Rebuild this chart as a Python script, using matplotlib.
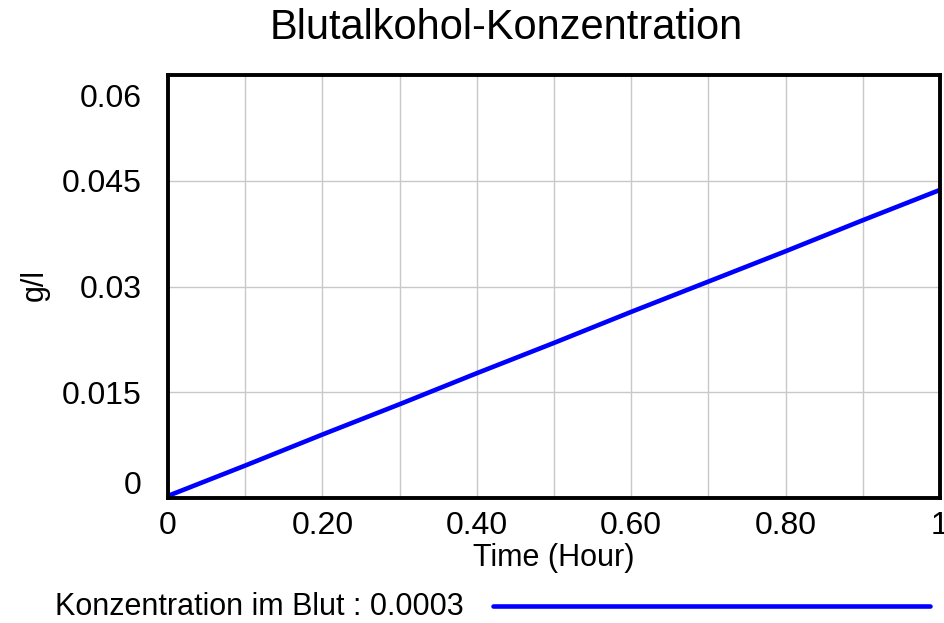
import matplotlib
matplotlib.use("Agg")
import matplotlib.pyplot as plt
import matplotlib.transforms as mtransforms
from matplotlib import font_manager

time_hours = [0.0, 0.1, 0.2, 0.3, 0.4, 0.5, 0.6, 0.7, 0.8, 0.9, 1.0]
konzentration = [0.0003, 0.0046, 0.0090, 0.0133, 0.0177, 0.0220, 0.0264, 0.0307, 0.0350, 0.0394, 0.0437]
x_ticks = [0.0, 0.1, 0.2, 0.3, 0.4, 0.5, 0.6, 0.7, 0.8, 0.9, 1.0]
x_tick_labels = ["0", "", "0.20", "", "0.40", "", "0.60", "", "0.80", "", "1"]
y_ticks = [0.0, 0.015, 0.03, 0.045, 0.06]
y_tick_labels = ["0", "0.015", "0.03", "0.045", "0.06"]
title = "Blutalkohol-Konzentration"
x_label = "Time (Hour)"
y_label = "g/l"
legend_label = "Konzentration im Blut : 0.0003"

names = {f.name for f in font_manager.fontManager.ttflist}
base = "Liberation Sans" if "Liberation Sans" in names else "DejaVu Sans"
plt.rcParams['font.family'] = [base, 'DejaVu Sans']

fig = plt.figure(figsize=(9.45, 6.23), dpi=100)
ax = fig.add_axes([168/945, 1-498/623, 772/945, 423/623])

ax.plot(time_hours, konzentration, color="#0000ff", lw=3.3, solid_capstyle="round")
ax.set_xlim(0, 1)
ax.set_ylim(0, 0.06)

ax.set_xticks(x_ticks)
ax.set_xticklabels(x_tick_labels, fontsize=23)
ax.set_yticks(y_ticks)
ax.set_yticklabels(y_tick_labels, fontsize=23)
ax.tick_params(axis="both", length=0)
ax.tick_params(axis="x", pad=9)
ax.tick_params(axis="y", pad=19)
ax.grid(True, color="#c8c8c8", lw=1)
for s in ax.spines.values():
    s.set_linewidth(2.8)
    s.set_color("black")

# Shift outermost y labels inward like the reference
ylabs = ax.get_yticklabels()
ylabs[0].set_transform(ylabs[0].get_transform() + mtransforms.ScaledTranslation(0, 16/100, fig.dpi_scale_trans))
ylabs[-1].set_transform(ylabs[-1].get_transform() + mtransforms.ScaledTranslation(0, -20/100, fig.dpi_scale_trans))

fig.text(506/945, 1-28/623, title, fontsize=30, ha="center", va="center")
ax.set_xlabel(x_label, fontsize=22, labelpad=2)
fig.text(35/945, 1-285/623, y_label, rotation=90, fontsize=22, ha="center", va="center")

# Legend row below
fig.text(55/945, 1-607/623, legend_label, fontsize=22, ha="left", va="center")
fig.add_artist(plt.Line2D([493/945, 930/945], [1-606/623, 1-606/623], color="#0000ff", lw=3.3, solid_capstyle="round"))

fig.savefig("out.png", dpi=100)
